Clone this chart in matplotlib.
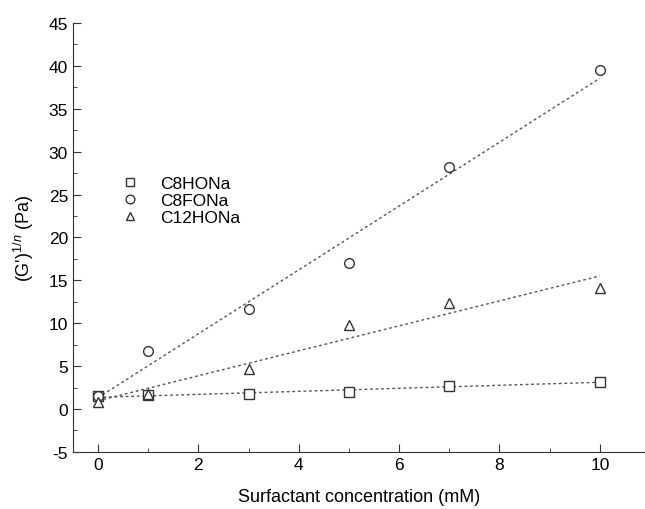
import numpy as np
import matplotlib.pyplot as plt

plt.rcParams['font.family'] = ['Liberation Sans', 'DejaVu Sans']
plt.rcParams['axes.unicode_minus'] = False
plt.rcParams['mathtext.fontset'] = 'custom'
plt.rcParams['mathtext.rm'] = 'Liberation Sans'
plt.rcParams['mathtext.it'] = 'Liberation Sans:italic'

conc = [0, 1, 3, 5, 7, 10]
c8h = [1.5, 1.6, 1.7, 2.0, 2.7, 3.2]
c8f = [1.5, 6.8, 11.7, 17.0, 28.2, 39.5]
c12h = [0.8, 1.8, 4.7, 9.8, 12.4, 14.1]
names = ['C8HONa', 'C8FONa', 'C12HONa']

fig = plt.figure(figsize=(6.45, 5.1), dpi=100)
ax = fig.add_axes([0.113, 0.112, 0.887, 0.841])

markers = ['s', 'o', '^']
x = np.array(conc)
xx = np.linspace(0, 10, 50)
for ys, m, n in zip([c8h, c8f, c12h], markers, names):
    # linear fit drawn as dotted line
    k, b = np.polyfit(x, ys, 1)
    ax.plot(xx, k * xx + b, ls=(0, (2, 2)), color='#555555', lw=1.0)
    ax.plot(x, ys, ls='none', marker=m, ms=7 if m != 's' else 6.5,
            mfc='white', mec='#333333', mew=1.0, label=n)

ax.set_xlim(-0.5, 10.9)
ax.set_ylim(-5, 45)
ax.set_xticks(range(0, 11, 2))
ax.set_xticks(range(0, 11), minor=True)
ax.set_yticks(range(-5, 46, 5))
ax.set_yticks(np.arange(-5, 45, 2.5), minor=True)
ax.tick_params(which='both', direction='in', labelsize=12.5, color='#333333')
ax.tick_params(which='major', length=6)
ax.tick_params(which='minor', length=3)
for s in ['top', 'right']:
    ax.spines[s].set_visible(False)
for s in ['left', 'bottom']:
    ax.spines[s].set_color('#333333')

ax.set_xlabel('Surfactant concentration (mM)', fontsize=13, labelpad=12)
ax.set_ylabel("(G')$^{1/n}$ (Pa)", fontsize=13, labelpad=9)

ax.legend(loc='upper left', bbox_to_anchor=(0.043, 0.68), frameon=False,
          fontsize=12.5, handletextpad=0.7, labelspacing=0.1, markerscale=0.9)

fig.savefig('out.png')
